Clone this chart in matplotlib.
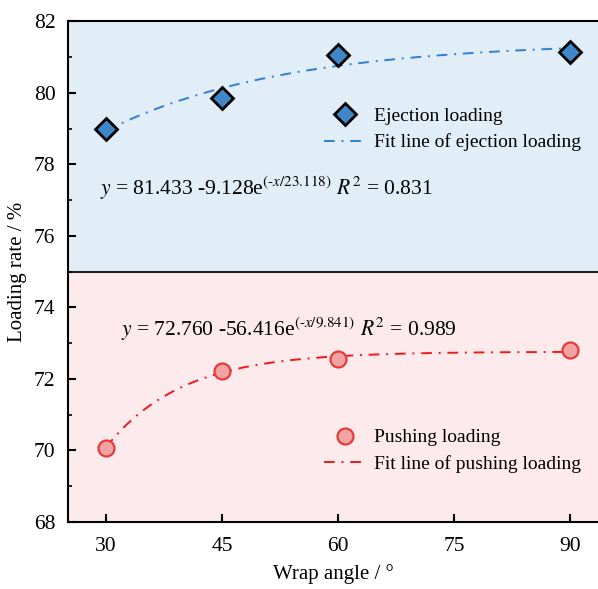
import numpy as np
import matplotlib.pyplot as plt

plt.rcParams['font.family'] = ['Liberation Serif', 'DejaVu Serif']
plt.rcParams['mathtext.fontset'] = 'stix'

angle = [30, 45, 60, 90]
ejection = [79.0, 79.85, 81.05, 81.15]
pushing = [70.07, 72.22, 72.55, 72.8]

# fit parameters as printed on the chart: y = a - b*exp(-x/c)
ej_fit = (81.433, 9.128, 23.118)
pu_fit = (72.760, 56.416, 9.841)

xs = np.linspace(30, 90, 200)
ej_line = ej_fit[0] - ej_fit[1] * np.exp(-xs / ej_fit[2])
pu_line = pu_fit[0] - pu_fit[1] * np.exp(-xs / pu_fit[2])

fig = plt.figure(figsize=(5.98, 5.89), dpi=100)
ax = fig.add_axes([0.1137, 0.1138, 0.8863, 0.8502])

ax.axhspan(75, 82, color='#e1edf7', zorder=0)
ax.axhspan(68, 75, color='#fdeaed', zorder=0)
ax.axhline(75, color='#222222', lw=1.5, zorder=1)

l1, = ax.plot(angle, ejection, 'D', ms=11, mfc='#3f87c9', mec='black', mew=2,
              label='Ejection loading', zorder=4)
l2, = ax.plot(xs, ej_line, color='#2e7fd2', lw=1.4, ls=(0, (5.5, 3.5, 1, 3.5)),
              label='Fit line of ejection loading', zorder=3)
l3, = ax.plot(angle, pushing, 'o', ms=11.5, mfc='#f0a4a4', mec='#e83a3a', mew=1.6,
              label='Pushing loading', zorder=4)
l4, = ax.plot(xs, pu_line, color='#f01818', lw=1.4, ls=(0, (5.5, 3.5, 1, 3.5)),
              label='Fit line of pushing loading', zorder=3)

leg1 = ax.legend(handles=[l1, l2], loc='center left', bbox_to_anchor=(0.468, 0.784),
                 frameon=False, fontsize=14, handlelength=2.2, handletextpad=0.4,
                 labelspacing=0.45, borderaxespad=0)
ax.add_artist(leg1)
ax.legend(handles=[l3, l4], loc='center left', bbox_to_anchor=(0.468, 0.142),
          frameon=False, fontsize=14, handlelength=2.2, handletextpad=0.4,
          labelspacing=0.45, borderaxespad=0)

ax.text(29.3, 77.33, r'$y$ = 81.433 -9.128e$^{(\text{-}x/23.118)}$ $R^2$ = 0.831',
        fontsize=15.5, va='center', ha='left')
ax.text(32.0, 73.38, r'$y$ = 72.760 -56.416e$^{(\text{-}x/9.841)}$ $R^2$ = 0.989',
        fontsize=15.5, va='center', ha='left')

ax.set_xlim(25.1, 93.6)
ax.set_ylim(68, 82)
ax.set_xticks([30, 45, 60, 75, 90])
ax.set_yticks([68, 70, 72, 74, 76, 78, 80, 82])
ax.set_yticks(np.arange(69, 82, 2), minor=True)
ax.tick_params(axis='both', which='major', direction='in', length=6, width=1.5,
               labelsize=15.5, top=False, right=False)
ax.tick_params(axis='y', which='minor', direction='in', length=3, width=1.2)
ax.tick_params(axis='x', pad=11)
ax.tick_params(axis='y', pad=9)
for side in ['left', 'bottom', 'top']:
    ax.spines[side].set_linewidth(1.5)
ax.spines['right'].set_visible(False)

ax.set_xlabel('Wrap angle / °', fontsize=15, labelpad=6)
ax.set_ylabel('Loading rate / %', fontsize=15, labelpad=5)

fig.savefig('out.png', dpi=100)
